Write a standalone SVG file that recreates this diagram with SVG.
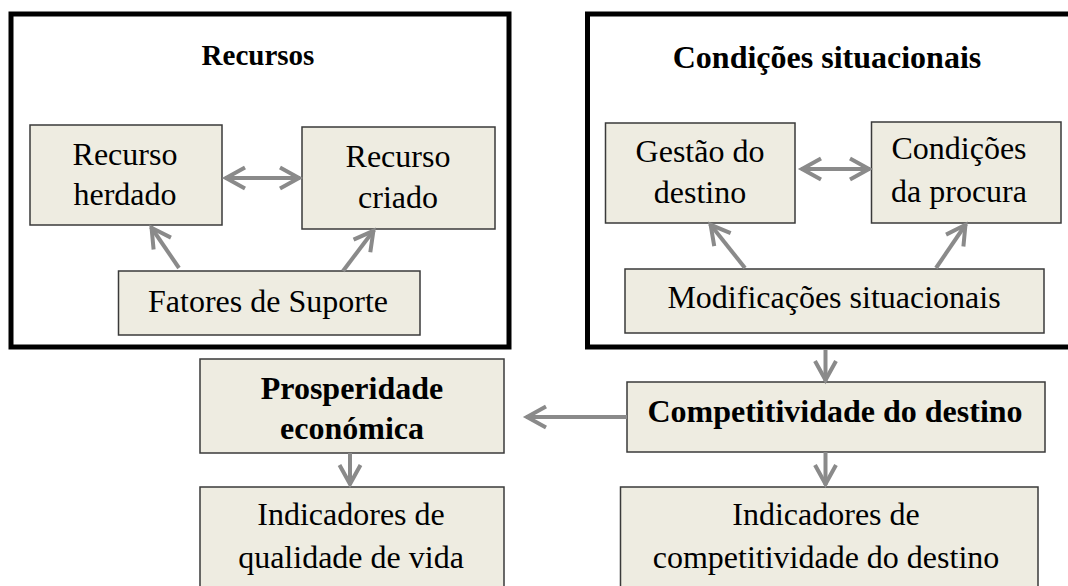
<svg xmlns="http://www.w3.org/2000/svg" width="1068" height="586" viewBox="0 0 1068 586">
<style>
.frame{fill:none;stroke:#000;stroke-width:5}
.box{fill:#EEECE1;stroke:#3a3a3a;stroke-width:1.5}
.t{font-family:"Liberation Serif","Times New Roman",serif;font-size:32px;fill:#000;text-anchor:middle}
.b{font-weight:bold}
.c{fill:none;stroke:#8a8a8a;stroke-width:4}
</style>
<defs>
<marker id="ah" viewBox="-24 -14 28 28" refX="0" refY="0" markerWidth="28" markerHeight="28" markerUnits="userSpaceOnUse" orient="auto-start-reverse">
<path d="M-20,-10.5 L-1,0 L-20,10.5" fill="none" stroke="#8a8a8a" stroke-width="4"/>
</marker>
</defs>
<rect width="1068" height="586" fill="#fff"/>
<g id="recursos">
<rect class="frame" x="11" y="14" width="498" height="333"/>
<text class="t b" x="258" y="65" style="font-size:29px">Recursos</text>
</g>
<g id="condicoes-situacionais">
<rect class="frame" x="587.5" y="14" width="490" height="333"/>
<text class="t b" x="827" y="68">Condições situacionais</text>
</g>
<g id="recurso-herdado">
<rect class="box" x="30" y="125" width="192" height="100"/>
<text class="t" x="125" y="165">Recurso</text>
<text class="t" x="125" y="205">herdado</text>
</g>
<g id="recurso-criado">
<rect class="box" x="302" y="127" width="193" height="102"/>
<text class="t" x="398" y="167">Recurso</text>
<text class="t" x="398" y="208">criado</text>
</g>
<g id="fatores-suporte">
<rect class="box" x="118.5" y="271" width="301.5" height="64"/>
<text class="t" x="268" y="312">Fatores de Suporte</text>
</g>
<g id="gestao-destino">
<rect class="box" x="605.5" y="123" width="189.5" height="100"/>
<text class="t" x="700" y="162">Gestão do</text>
<text class="t" x="700" y="203">destino</text>
</g>
<g id="condicoes-procura">
<rect class="box" x="871.5" y="122" width="189.5" height="101"/>
<text class="t" x="959" y="159">Condições</text>
<text class="t" x="959" y="202">da procura</text>
</g>
<g id="modificacoes">
<rect class="box" x="625" y="269" width="419" height="64"/>
<text class="t" x="834" y="308">Modificações situacionais</text>
</g>
<g id="prosperidade">
<rect class="box" x="200" y="359" width="304" height="94"/>
<text class="t b" x="352" y="399">Prosperidade</text>
<text class="t b" x="352" y="439">económica</text>
</g>
<g id="competitividade">
<rect class="box" x="627" y="382" width="418" height="70"/>
<text class="t b" x="835" y="422">Competitividade do destino</text>
</g>
<g id="indicadores-qualidade">
<rect class="box" x="200" y="487" width="304" height="110"/>
<text class="t" x="351" y="525">Indicadores de</text>
<text class="t" x="351" y="568">qualidade de vida</text>
</g>
<g id="indicadores-competitividade">
<rect class="box" x="620.5" y="487" width="417.5" height="110"/>
<text class="t" x="826" y="525">Indicadores de</text>
<text class="t" x="826" y="568">competitividade do destino</text>
</g>
<g id="connectors" class="c">
<line x1="225" y1="178" x2="300" y2="178" marker-start="url(#ah)" marker-end="url(#ah)"/>
<line x1="179" y1="268" x2="151" y2="227" marker-end="url(#ah)"/>
<line x1="343" y1="271" x2="374" y2="230" marker-end="url(#ah)"/>
<line x1="801" y1="169" x2="870" y2="169" marker-start="url(#ah)" marker-end="url(#ah)"/>
<line x1="745" y1="268" x2="710" y2="224" marker-end="url(#ah)"/>
<line x1="936" y1="268" x2="966" y2="224" marker-end="url(#ah)"/>
<line x1="825.5" y1="350" x2="825.5" y2="381" marker-end="url(#ah)"/>
<line x1="627" y1="417" x2="526" y2="417" marker-end="url(#ah)"/>
<line x1="350" y1="453" x2="350" y2="485" marker-end="url(#ah)"/>
<line x1="825.5" y1="452" x2="825.5" y2="485" marker-end="url(#ah)"/>
</g>
</svg>
